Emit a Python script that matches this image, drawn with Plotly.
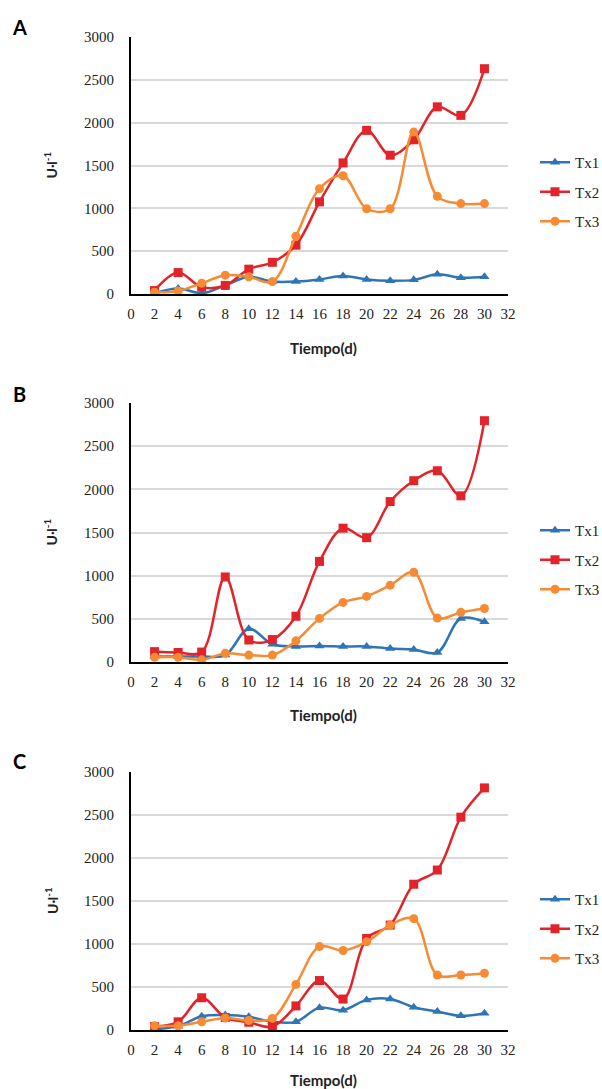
import plotly.graph_objects as go

# ---------------- data ----------------
days = [2, 4, 6, 8, 10, 12, 14, 16, 18, 20, 22, 24, 26, 28, 30]
series_names = ["Tx1", "Tx2", "Tx3"]

a_tx1 = [10, 65, 10, 100, 200, 145, 145, 170, 210, 170, 155, 165, 230, 190, 200]
a_tx2 = [40, 250, 80, 100, 290, 370, 570, 1075, 1530, 1910, 1620, 1800, 2185, 2085, 2630]
a_tx3 = [20, 35, 125, 220, 200, 145, 675, 1230, 1380, 995, 995, 1890, 1140, 1055, 1055]

b_tx1 = [65, 65, 65, 80, 385, 205, 180, 185, 180, 180, 155, 145, 110, 505, 465]
b_tx2 = [120, 110, 115, 985, 255, 260, 530, 1165, 1550, 1440, 1858, 2100, 2215, 1925, 2795]
b_tx3 = [55, 55, 25, 100, 80, 80, 245, 505, 690, 760, 890, 1040, 510, 575, 620]

c_tx1 = [10, 45, 160, 175, 155, 95, 95, 260, 230, 350, 360, 265, 215, 165, 195]
c_tx2 = [40, 95, 375, 145, 90, 40, 280, 575, 360, 1065, 1220, 1695, 1860, 2475, 2815]
c_tx3 = [50, 50, 95, 140, 110, 135, 530, 970, 925, 1025, 1220, 1295, 640, 640, 660]

panel_labels = ["A", "B", "C"]
x_title = "Tiempo(d)"
y_title = "U·l<sup>-1</sup>"

# ---------------- styling / layout ----------------
W, H = 602, 1089
colors = ["#2E75B6", "#E2232A", "#F68B33"]
symbols = ["triangle-up", "square", "circle"]
serif = "Liberation Serif, Times New Roman, DejaVu Serif, serif"
sans = "Lato, Open Sans, sans-serif"

panels = [
    dict(data=[a_tx1, a_tx2, a_tx3], top=37, bottom=294, legend_mid=192,
         letter_y=27, xtitle_y=348),
    dict(data=[b_tx1, b_tx2, b_tx3], top=403, bottom=662, legend_mid=560,
         letter_y=394, xtitle_y=715),
    dict(data=[c_tx1, c_tx2, c_tx3], top=772, bottom=1030, legend_mid=929,
         letter_y=761, xtitle_y=1080),
]
x_left, x_right = 131, 508


def fx(p):
    return p / W


def fy(p):
    return 1 - p / H


fig = go.Figure()
annotations = []
layout = {}

for i, p in enumerate(panels):
    n = "" if i == 0 else str(i + 1)
    xa, ya = "x" + n, "y" + n
    leg = "legend" + n
    for j, name in enumerate(series_names):
        fig.add_trace(go.Scatter(
            x=days, y=p["data"][j], name=name, mode="lines+markers",
            line=dict(color=colors[j], width=2.5, shape="spline", smoothing=1),
            marker=dict(symbol=symbols[j], size=9, color=colors[j]),
            xaxis=xa, yaxis=ya, legend=leg, legendgroup=f"{i}-{j}",
        ))
    layout["xaxis" + n] = dict(
        domain=[fx(x_left), fx(x_right)], range=[0, 32], tick0=0, dtick=2,
        anchor=ya, showgrid=False, zeroline=False, showline=True,
        linecolor="black", linewidth=2, ticks="", ticklabelstandoff=5,
        tickfont=dict(family=serif, size=15, color="#222"), automargin=False,
    )
    layout["yaxis" + n] = dict(
        domain=[fy(p["bottom"]), fy(p["top"])], range=[0, 3000], dtick=500,
        anchor=xa, showgrid=True, gridcolor="#d9d9d9", gridwidth=2,
        zeroline=False, showline=True, linecolor="black", linewidth=2,
        ticks="", ticklabelstandoff=12, automargin=False,
        tickfont=dict(family=serif, size=15, color="#222"),
    )
    layout[leg] = dict(
        x=fx(535), xanchor="left", y=fy(p["legend_mid"]), yanchor="middle",
        font=dict(family=serif, size=15, color="#222"), bgcolor="rgba(0,0,0,0)",
        traceorder="grouped", tracegroupgap=7, borderwidth=0,
    )
    annotations.append(dict(
        text=f"<b>{panel_labels[i]}</b>", x=fx(19), y=fy(p["letter_y"]),
        xanchor="center", yanchor="middle",
        xref="paper", yref="paper", showarrow=False,
        font=dict(family=sans, size=20, color="black"),
    ))
    annotations.append(dict(
        text=f"<b>{y_title}</b>", x=fx(51), y=fy((p["top"] + p["bottom"]) / 2),
        xanchor="center", yanchor="middle",
        xref="paper", yref="paper", showarrow=False, textangle=-90,
        font=dict(family=sans, size=14, color="#222"),
    ))
    annotations.append(dict(
        text=f"<b>{x_title}</b>", x=fx(323), y=fy(p["xtitle_y"]),
        xanchor="center", yanchor="middle",
        xref="paper", yref="paper", showarrow=False,
        font=dict(family=sans, size=15, color="#222"),
    ))

fig.update_layout(
    width=W, height=H,
    margin=dict(l=0, r=0, t=0, b=0, pad=0, autoexpand=False),
    paper_bgcolor="white", plot_bgcolor="white", showlegend=True,
    hovermode=False,
    annotations=annotations, **layout,
)

# remove the browser's default page margin so the 602x1089 figure fills the window exactly
fig.write_html(
    "out.html",
    config={"displayModeBar": False},
    post_script="document.body.style.margin='0';document.body.style.overflow='hidden';",
)
